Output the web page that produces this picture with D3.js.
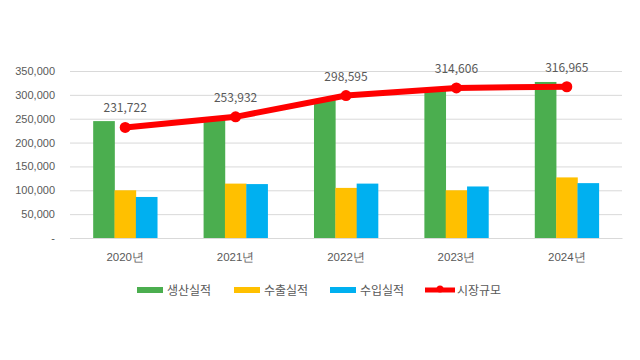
<!DOCTYPE html>
<html><head><meta charset="utf-8">
<script src="https://cdn.jsdelivr.net/npm/d3@7"></script>
<style>body{margin:0;background:#fff;}svg{display:block;font-family:"Malgun Gothic","Noto Sans CJK KR","Noto Sans",sans-serif;}</style>
</head><body><svg id="c" width="640" height="360"></svg>
<script>
const years = ["2020년","2021년","2022년","2023년","2024년"];
const production = [245000, 248000, 291000, 311000, 327000];
const exports_ = [100000, 114000, 105000, 100000, 127000];
const imports_ = [86000, 113000, 114000, 108000, 115000];
const market = [231722, 253932, 298595, 314606, 316965];
const yTicks = [0, 50000, 100000, 150000, 200000, 250000, 300000, 350000];
const seriesNames = ["생산실적","수출실적","수입실적","시장규모"];
const colors = ["#4BAE4F","#FFC000","#00B0F0","#FF0000"];

const svg = d3.select("#c");
const m = {l:70, r:18, t:71, b:122};
const W = 640, H = 360;
const x = d3.scaleBand().domain(years).range([m.l, W-m.r]).paddingInner(0.42).paddingOuter(0.21);
const y = d3.scaleLinear().domain([0,350000]).range([H-m.b, m.t]);
const fmt = d3.format(",");

// gridlines
const yAxis = d3.axisLeft(y).tickValues(yTicks).tickSize(-(W-m.r-m.l)).tickFormat(d => d===0 ? "-" : fmt(d));
const ga = svg.append("g").attr("transform",`translate(${m.l},0)`).call(yAxis);
ga.select(".domain").remove();
ga.selectAll(".tick line").attr("stroke","#d9d9d9").attr("stroke-width",1);
ga.selectAll(".tick text").attr("x",-15).attr("fill","#595959").style("font-size","11px");

const x1 = d3.scaleBand().domain([0,1,2]).range([0, x.bandwidth()]);
const groups = svg.append("g");
const data3 = [production, exports_, imports_];
years.forEach((yr,i)=>{
  data3.forEach((arr,k)=>{
    groups.append("rect")
      .attr("x", x(yr)+x1(k)).attr("width", x1.bandwidth()+0.3)
      .attr("y", y(arr[i])).attr("height", y(0)-y(arr[i]))
      .attr("fill", colors[k]);
  });
});

// x axis
const xa = svg.append("g").attr("transform",`translate(0,${y(0)})`).call(d3.axisBottom(x).tickSize(0).tickPadding(15));
xa.select(".domain").attr("stroke","#d9d9d9");
xa.selectAll("text").attr("fill","#595959").style("font-size","11.5px");

// line
const cx = d => x(d) + x.bandwidth()/2;
const line = d3.line().x((d,i)=>cx(years[i])).y(d=>y(d));
svg.append("path").datum(market).attr("d",line).attr("fill","none").attr("stroke",colors[3]).attr("stroke-width",6).attr("stroke-linejoin","round");
svg.selectAll("circle.pt").data(market).join("circle").attr("class","pt")
  .attr("cx",(d,i)=>cx(years[i])).attr("cy",d=>y(d)).attr("r",5.5).attr("fill",colors[3]);
svg.selectAll("text.lbl").data(market).join("text").attr("class","lbl")
  .attr("x",(d,i)=>cx(years[i])).attr("y",d=>y(d)-15)
  .attr("text-anchor","middle").attr("fill","#595959").style("font-size","12px").text(d=>fmt(d));

// legend
const lx = [137, 234, 330, 425];
const ly = 290;
seriesNames.forEach((n,k)=>{
  const g = svg.append("g");
  if(k<3){
    g.append("rect").attr("x",lx[k]).attr("y",ly-3).attr("width",26).attr("height",6).attr("fill",colors[k]);
    g.append("text").attr("x",lx[k]+30).attr("y",ly+4.5).attr("fill","#595959").style("font-size","12px").text(n);
  } else {
    g.append("line").attr("x1",lx[k]).attr("x2",lx[k]+30).attr("y1",ly).attr("y2",ly).attr("stroke",colors[3]).attr("stroke-width",5);
    g.append("circle").attr("cx",lx[k]+15).attr("cy",ly-1).attr("r",3.5).attr("fill",colors[3]);
    g.append("text").attr("x",lx[k]+32).attr("y",ly+4.5).attr("fill","#595959").style("font-size","12px").text(n);
  }
});
</script></body></html>
